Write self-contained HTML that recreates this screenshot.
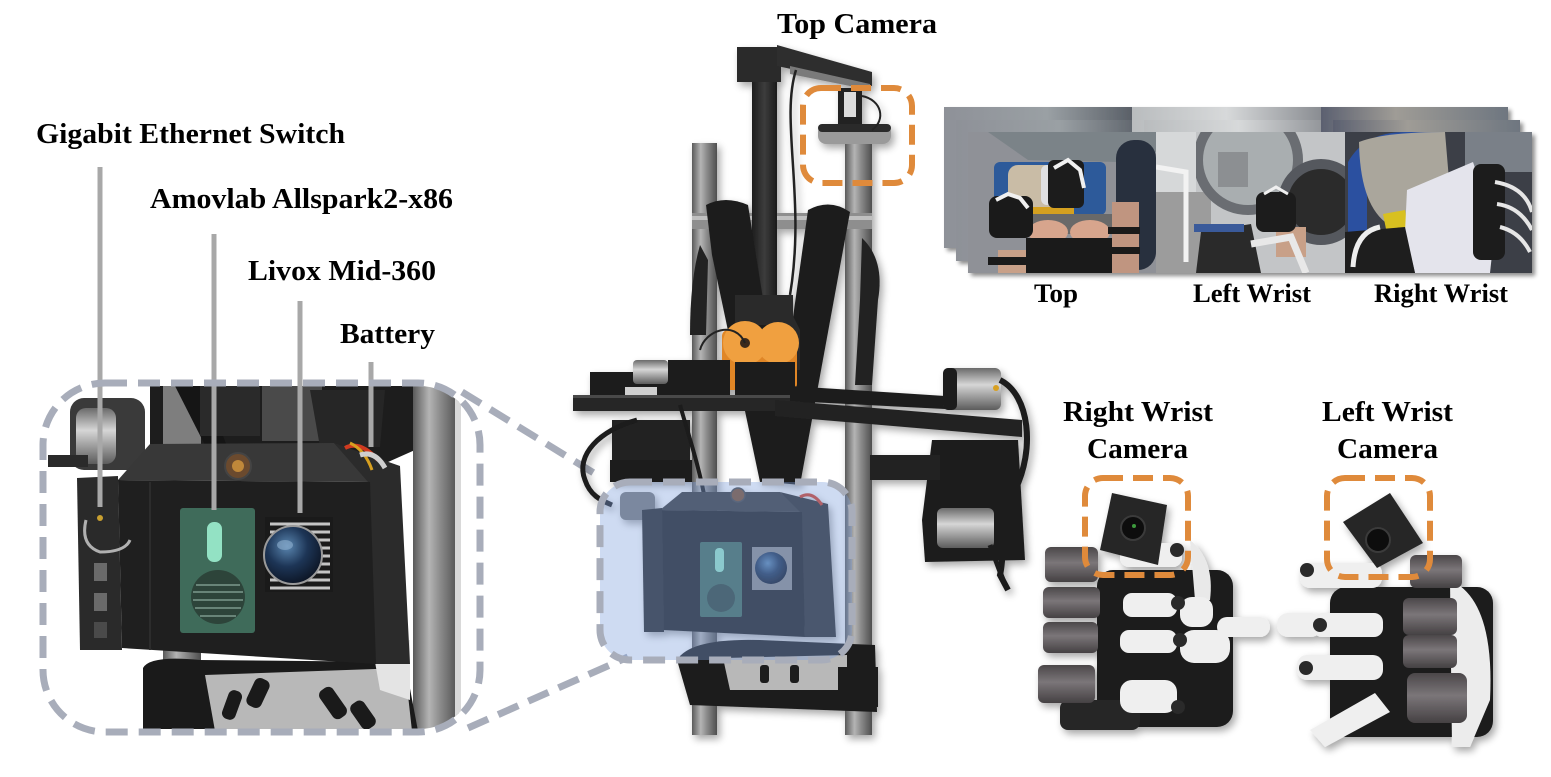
<!DOCTYPE html>
<html>
<head>
<meta charset="utf-8">
<style>
html,body{margin:0;padding:0;background:#fff;}
svg{display:block;}
text{font-family:"Liberation Serif","Times New Roman",serif;font-weight:bold;fill:#000;}
</style>
</head>
<body>
<svg width="1551" height="777" viewBox="0 0 1551 777" xmlns="http://www.w3.org/2000/svg">
<defs>
  <filter id="sh" x="-20%" y="-20%" width="140%" height="140%">
    <feGaussianBlur in="SourceAlpha" stdDeviation="4"/>
    <feOffset dx="3" dy="4" result="b"/>
    <feComponentTransfer><feFuncA type="linear" slope="0.35"/></feComponentTransfer>
    <feMerge><feMergeNode/><feMergeNode in="SourceGraphic"/></feMerge>
  </filter>
  <filter id="sh2" x="-10%" y="-10%" width="130%" height="130%">
    <feGaussianBlur in="SourceAlpha" stdDeviation="2"/>
    <feOffset dx="3" dy="3" result="b"/>
    <feComponentTransfer><feFuncA type="linear" slope="0.45"/></feComponentTransfer>
    <feMerge><feMergeNode/><feMergeNode in="SourceGraphic"/></feMerge>
  </filter>
  <linearGradient id="pole" x1="0" x2="1" y1="0" y2="0">
    <stop offset="0" stop-color="#5a5a5a"/><stop offset="0.35" stop-color="#b4b4b4"/>
    <stop offset="0.6" stop-color="#8a8a8a"/><stop offset="1" stop-color="#4e4e4e"/>
  </linearGradient>
  <linearGradient id="carbon" x1="0" x2="1">
    <stop offset="0" stop-color="#1e1e1e"/><stop offset="0.5" stop-color="#3c3c3c"/><stop offset="1" stop-color="#1a1a1a"/>
  </linearGradient>
  <linearGradient id="silver" x1="0" x2="0" y1="0" y2="1">
    <stop offset="0" stop-color="#6a6a6a"/><stop offset="0.4" stop-color="#d6d6d6"/><stop offset="1" stop-color="#5c5c5c"/>
  </linearGradient>
  <linearGradient id="cyl" x1="0" x2="0" y1="0" y2="1">
    <stop offset="0" stop-color="#4b4749"/><stop offset="0.45" stop-color="#7b7679"/><stop offset="1" stop-color="#454143"/>
  </linearGradient>
  <radialGradient id="dome" cx="0.4" cy="0.35" r="0.7">
    <stop offset="0" stop-color="#5a86b0"/><stop offset="0.5" stop-color="#1d3556"/><stop offset="1" stop-color="#0b1220"/>
  </radialGradient>
  <linearGradient id="bkTop" x1="0" x2="1">
    <stop offset="0" stop-color="#8e9198"/><stop offset="0.55" stop-color="#9aa0a4"/><stop offset="1" stop-color="#5a6068"/>
  </linearGradient>
  <linearGradient id="bkLeft" x1="0" x2="1">
    <stop offset="0" stop-color="#b9bcbe"/><stop offset="0.5" stop-color="#d7d9da"/><stop offset="1" stop-color="#8a8d92"/>
  </linearGradient>
  <linearGradient id="bkRight" x1="0" x2="1">
    <stop offset="0" stop-color="#5b6070"/><stop offset="0.4" stop-color="#9f9c96"/><stop offset="1" stop-color="#6e7680"/>
  </linearGradient>
  <clipPath id="insetClip"><rect x="46" y="386" width="431" height="343" rx="58"/></clipPath>
  <clipPath id="blueClip"><rect x="600" y="482" width="252" height="178" rx="30"/></clipPath>
</defs>

<!-- ================= LEFT INSET PHOTO ================= -->
<g clip-path="url(#insetClip)">
  <rect x="40" y="380" width="440" height="355" fill="#fff"/>
  <!-- upper background -->
  <polygon points="150,386 415,386 415,450 370,470 150,470" fill="#1d1d1d"/>
  <rect x="163" y="386" width="38" height="70" fill="#7e7e7e"/>
  <polygon points="175,386 205,386 230,455 210,455" fill="#151515"/>
  <rect x="262" y="386" width="60" height="55" fill="#4a4a4a"/>
  <polygon points="310,390 385,390 380,447 320,447" fill="#262626"/>
  <rect x="200" y="386" width="60" height="50" fill="#2a2a2a"/>
  <!-- left motor -->
  <rect x="70" y="398" width="75" height="72" rx="14" fill="#3a3a3a"/>
  <rect x="76" y="408" width="40" height="56" rx="10" fill="url(#silver)"/>
  <rect x="48" y="455" width="40" height="12" fill="#2a2a2a"/>
  <!-- right pole -->
  <rect x="413" y="386" width="46" height="345" fill="url(#pole)"/>
  <rect x="455" y="386" width="6" height="345" fill="#d9d9d9"/>
  <!-- pole under box -->
  <rect x="163" y="640" width="38" height="90" fill="url(#pole)"/>
  <!-- hip belt -->
  <path d="M143,668 Q150,655 200,660 L405,662 L418,731 L143,731 Z" fill="#1a1a1a"/>
  <path d="M205,675 L405,668 L412,731 L215,731 Z" fill="#b8b8b8"/>
  <rect x="225" y="690" width="14" height="30" rx="6" fill="#1a1a1a" transform="rotate(20 232 705)"/>
  <rect x="250" y="678" width="16" height="30" rx="6" fill="#1a1a1a" transform="rotate(25 258 693)"/>
  <rect x="325" y="686" width="16" height="34" rx="6" fill="#1a1a1a" transform="rotate(-35 333 703)"/>
  <rect x="355" y="700" width="16" height="30" rx="6" fill="#1a1a1a" transform="rotate(-35 363 715)"/>
  <polygon points="372,645 410,640 410,700 380,690" fill="#e4e4e4"/>
  <!-- box top face -->
  <polygon points="118,480 150,444 334,443 370,482" fill="#383838"/>
  <!-- right face -->
  <polygon points="368,482 334,443 400,466 410,664 375,664" fill="#2b2b2b"/>
  <!-- front face -->
  <polygon points="118,480 370,482 376,664 122,648" fill="#1f1f1f"/>
  <line x1="150" y1="482" x2="150" y2="650" stroke="#2c2c2c" stroke-width="2"/>
  <!-- switch -->
  <polygon points="77,478 118,476 122,650 80,650" fill="#2a2a2a"/>
  <rect x="94" y="563" width="13" height="18" fill="#6a6a6a"/>
  <rect x="94" y="593" width="13" height="18" fill="#6a6a6a"/>
  <rect x="94" y="622" width="13" height="16" fill="#4a4a4a"/>
  <path d="M86,520 Q80,545 100,552 Q125,552 130,540" fill="none" stroke="#b0b0b0" stroke-width="3"/>
  <circle cx="100" cy="518" r="3" fill="#c9a030"/>
  <!-- connector -->
  <circle cx="238" cy="466" r="13" fill="#6b4a2e" stroke="#444" stroke-width="2"/>
  <circle cx="238" cy="466" r="6" fill="#c0883a"/>
  <!-- battery wires -->
  <path d="M345,448 Q360,440 378,460" fill="none" stroke="#d03a20" stroke-width="4"/>
  <path d="M350,443 Q365,450 372,470" fill="none" stroke="#d8a020" stroke-width="3"/>
  <path d="M360,455 Q375,450 385,468" fill="none" stroke="#cfcfcf" stroke-width="5"/>
  <!-- green panel -->
  <rect x="180" y="508" width="75" height="125" rx="3" fill="#3f6b5a"/>
  <rect x="207" y="522" width="15" height="40" rx="7" fill="#93e2c4"/>
  <circle cx="218" cy="597" r="27" fill="#2d443a"/>
  <g stroke="#7d9a8c" stroke-width="1.5">
    <line x1="196" y1="585" x2="240" y2="585"/><line x1="193" y1="592" x2="243" y2="592"/>
    <line x1="193" y1="600" x2="243" y2="600"/><line x1="195" y1="608" x2="241" y2="608"/>
    <line x1="200" y1="616" x2="236" y2="616"/>
  </g>
  <!-- lidar -->
  <rect x="265" y="517" width="68" height="75" fill="#1a1a1a"/>
  <g stroke="#c4c4c4" stroke-width="3">
    <line x1="270" y1="524" x2="330" y2="524"/><line x1="270" y1="532" x2="330" y2="532"/>
    <line x1="270" y1="540" x2="330" y2="540"/><line x1="270" y1="548" x2="330" y2="548"/>
    <line x1="270" y1="556" x2="330" y2="556"/><line x1="270" y1="564" x2="330" y2="564"/>
    <line x1="270" y1="572" x2="330" y2="572"/><line x1="270" y1="580" x2="330" y2="580"/>
    <line x1="270" y1="588" x2="330" y2="588"/>
  </g>
  <circle cx="293" cy="555" r="29" fill="url(#dome)" stroke="#9a9a9a" stroke-width="2"/>
  <ellipse cx="285" cy="545" rx="8" ry="5" fill="#8fb0d0" opacity="0.6"/>
</g>

<!-- leader lines -->
<g stroke="#a8a8a8" stroke-width="5">
  <line x1="100" y1="167" x2="100" y2="507"/>
  <line x1="214" y1="234" x2="214" y2="510"/>
  <line x1="300" y1="301" x2="300" y2="513"/>
  <line x1="371" y1="362" x2="371" y2="447"/>
</g>

<!-- inset dashed border -->
<rect x="43" y="383" width="437" height="349" rx="62" fill="none" stroke="#a8adba" stroke-width="7" stroke-dasharray="22 11"/>

<!-- connectors -->
<line x1="462" y1="392" x2="602" y2="478" stroke="#a8adba" stroke-width="7" stroke-dasharray="22 11"/>
<line x1="468" y1="728" x2="628" y2="657" stroke="#a8adba" stroke-width="7" stroke-dasharray="22 11"/>

<!-- ================= CENTRAL ROBOT ================= -->
<g filter="url(#sh)">
  <!-- poles -->
  <rect x="692" y="143" width="25" height="592" fill="url(#pole)"/>
  <rect x="845" y="140" width="27" height="595" fill="url(#pole)"/>
  <!-- crossbar -->
  <rect x="692" y="213" width="180" height="16" fill="#8e8e8e"/>
  <rect x="692" y="216" width="180" height="4" fill="#c0c0c0"/>
  <!-- carbon pole -->
  <rect x="752" y="80" width="25" height="225" fill="url(#carbon)"/>
  <!-- top bracket -->
  <rect x="737" y="47" width="44" height="35" fill="#2b2b2b"/>
  <polygon points="777,45 872,72 872,86 777,66" fill="#2e2e2e"/>
  <polygon points="790,66 870,84 870,90 790,74" fill="#7a7a7a"/>
  <!-- camera mount -->
  <rect x="838" y="88" width="24" height="38" fill="#222"/>
  <rect x="844" y="92" width="12" height="25" fill="#dcdcdc"/>
  <rect x="818" y="124" width="73" height="20" rx="8" fill="#9a9a9a"/>
  <rect x="818" y="124" width="73" height="8" rx="4" fill="#2c2c2c"/>
  <!-- cable -->
  <path d="M796,70 C780,120 806,200 790,295" fill="none" stroke="#222" stroke-width="2.5"/>
  <path d="M862,96 C882,100 886,120 872,130" fill="none" stroke="#222" stroke-width="2"/>
  <!-- straps -->
  <path d="M706,205 Q725,195 748,205 L792,480 L760,482 L712,255 Z" fill="#1f1f1f"/>
  <path d="M808,210 Q830,198 850,212 L800,485 L770,482 Z" fill="#1f1f1f"/>
  <path d="M862,238 Q885,260 878,300 L872,385 L855,385 L860,300 Z" fill="#222"/>
  <path d="M700,245 Q690,280 690,335 L706,335 L708,260 Z" fill="#222"/>
  <!-- bracket above motors -->
  <rect x="735" y="295" width="58" height="30" fill="#2a2a2a"/>
  <polygon points="785,300 800,330 800,370 785,370" fill="#2a2a2a"/>
  <!-- orange motors -->
  <rect x="722" y="330" width="75" height="60" rx="6" fill="#e08628"/>
  <circle cx="745" cy="343" r="22" fill="#f0a040"/>
  <circle cx="778" cy="343" r="21" fill="#f0a040"/>
  <circle cx="745" cy="343" r="5" fill="#3a2a1a"/>
  <path d="M745,343 C735,320 705,330 700,350" fill="none" stroke="#222" stroke-width="2"/>
  <!-- left arm top -->
  <rect x="590" y="372" width="130" height="26" fill="#1e1e1e"/>
  <rect x="633" y="360" width="35" height="24" rx="4" fill="url(#silver)"/>
  <rect x="668" y="360" width="62" height="38" fill="#1c1c1c"/>
  <rect x="735" y="362" width="60" height="38" fill="#1c1c1c"/>
  <rect x="625" y="387" width="32" height="8" fill="#cfcfcf"/>
  <!-- left plate -->
  <rect x="573" y="395" width="227" height="16" fill="#262626"/>
  <rect x="573" y="395" width="227" height="3" fill="#4a4a4a"/>
  <!-- right rail & plate -->
  <polygon points="790,386 945,396 945,409 790,401" fill="#1c1c1c"/>
  <polygon points="775,400 1022,420 1022,437 775,416" fill="#232323"/>
  <!-- right motor -->
  <rect x="943" y="368" width="58" height="42" rx="6" fill="url(#silver)"/>
  <rect x="943" y="368" width="14" height="42" rx="5" fill="#1e1e1e"/>
  <circle cx="996" cy="388" r="3" fill="#d8a020"/>
  <path d="M1000,380 C1030,395 1035,450 1015,490 C1000,520 1005,555 1000,575 L1008,590" fill="none" stroke="#1a1a1a" stroke-width="6"/>
  <!-- right lower assembly -->
  <polygon points="932,440 1018,440 1025,560 925,562 922,520" fill="#1e1e1e"/>
  <rect x="937" y="508" width="57" height="40" rx="6" fill="url(#silver)"/>
  <rect x="870" y="455" width="70" height="25" fill="#222"/>
  <path d="M990,545 L1005,585" stroke="#1a1a1a" stroke-width="5"/>
  <!-- left under assembly -->
  <rect x="612" y="420" width="78" height="50" fill="#232323"/>
  <rect x="610" y="460" width="82" height="22" fill="#1c1c1c"/>
  <path d="M637,420 C600,430 575,455 585,480 C590,495 600,500 612,505" fill="none" stroke="#1a1a1a" stroke-width="5"/>
  <path d="M680,405 C690,440 700,470 705,500" fill="none" stroke="#1a1a1a" stroke-width="4"/>
  <!-- hip belt -->
  <path d="M677,660 Q690,638 760,640 L875,645 L877,712 L690,705 Z" fill="#1c1c1c"/>
  <polygon points="723,658 847,655 847,690 730,690" fill="#b8b8b8"/>
  <rect x="760" y="665" width="9" height="18" rx="3" fill="#1c1c1c"/>
  <rect x="790" y="665" width="9" height="18" rx="3" fill="#1c1c1c"/>
  <rect x="838" y="667" width="40" height="40" fill="#1a1a1a"/>
  <!-- computing box -->
  <rect x="620" y="492" width="35" height="28" rx="6" fill="#7a7a7a"/>
  <polygon points="660,510 682,492 780,492 802,512" fill="#383838"/>
  <polygon points="800,512 780,492 828,504 836,637 805,637" fill="#2c2c2c"/>
  <polygon points="660,510 802,512 805,637 663,630" fill="#1f1f1f"/>
  <polygon points="642,510 662,508 664,632 644,632" fill="#262626"/>
  <rect x="700" y="542" width="42" height="75" rx="2" fill="#3f6b5a"/>
  <rect x="715" y="548" width="9" height="24" rx="4" fill="#93e2c4"/>
  <circle cx="721" cy="598" r="14" fill="#2d443a"/>
  <rect x="752" y="547" width="40" height="43" fill="#8a8a8a"/>
  <circle cx="771" cy="568" r="16" fill="url(#dome)"/>
  <circle cx="738" cy="495" r="7" fill="#7a4e2a" stroke="#444" stroke-width="1.5"/>
  <path d="M800,497 Q812,490 822,505" fill="none" stroke="#d03a20" stroke-width="3"/>
</g>

<!-- blue highlight box -->
<rect x="600" y="482" width="252" height="178" rx="30" fill="#7fa0dc" fill-opacity="0.38"/>
<rect x="600" y="482" width="252" height="178" rx="30" fill="none" stroke="#a8adba" stroke-width="7" stroke-dasharray="22 11"/>

<!-- top camera orange box -->
<rect x="803" y="88" width="109" height="95" rx="18" fill="none" stroke="#df8a3b" stroke-width="6" stroke-dasharray="20 10"/>

<!-- ================= CAMERA VIEWS ================= -->
<!-- Top stack -->
<g filter="url(#sh2)">
  <rect x="944" y="107" width="188" height="141" fill="url(#bkTop)"/>
  <rect x="956" y="120" width="188" height="141" fill="url(#bkTop)"/>
  <rect x="1132" y="107" width="189" height="141" fill="url(#bkLeft)"/>
  <rect x="1144" y="120" width="189" height="141" fill="url(#bkLeft)"/>
  <rect x="1321" y="107" width="187" height="141" fill="url(#bkRight)"/>
  <rect x="1333" y="120" width="187" height="141" fill="url(#bkRight)"/>
  <rect x="968" y="132" width="188" height="141" fill="#8f9197"/>
  <rect x="1156" y="132" width="189" height="141" fill="#c5c7c9"/>
  <rect x="1345" y="132" width="187" height="141" fill="#3c3f47"/>
</g>
<!-- top view content -->
<svg x="968" y="132" width="188" height="141" viewBox="0 0 188 141">
  <rect width="188" height="141" fill="#8f9197"/>
  <polygon points="20,0 188,0 188,20 150,30 60,28" fill="#7b8388"/>
  <rect x="148" y="8" width="40" height="130" rx="18" fill="#28303e"/>
  <rect x="26" y="30" width="112" height="53" rx="6" fill="#2d5a9a"/>
  <rect x="40" y="33" width="47" height="45" rx="10" fill="#c9bca6"/>
  <rect x="73" y="33" width="34" height="40" rx="6" fill="#e0e0e2"/>
  <rect x="36" y="75" width="70" height="7" fill="#d4a020"/>
  <rect x="62" y="82" width="82" height="20" fill="#696969"/>
  <ellipse cx="80" cy="100" rx="20" ry="12" fill="#d7a58d"/>
  <ellipse cx="122" cy="100" rx="20" ry="12" fill="#d7a58d"/>
  <rect x="58" y="106" width="86" height="35" fill="#1a1a1a"/>
  <rect x="144" y="70" width="27" height="71" fill="#c09580"/>
  <rect x="140" y="95" width="32" height="7" fill="#1a1a1a"/>
  <rect x="140" y="115" width="32" height="7" fill="#1a1a1a"/>
  <rect x="30" y="118" width="28" height="23" fill="#c8a088"/>
  <rect x="20" y="125" width="40" height="8" fill="#1a1a1a"/>
  <rect x="21" y="64" width="44" height="42" rx="8" fill="#1a1a1a"/>
  <path d="M28,68 L40,62 L52,66 L60,76" fill="none" stroke="#f0f0f0" stroke-width="4"/>
  <rect x="80" y="28" width="36" height="48" rx="6" fill="#1c1c1c"/>
  <path d="M86,36 L100,28 L112,38 L116,56" fill="none" stroke="#f0f0f0" stroke-width="4"/>
</svg>
<!-- left wrist content -->
<svg x="1156" y="132" width="189" height="141" viewBox="0 0 189 141">
  <rect width="189" height="141" fill="#c3c5c7"/>
  <rect x="0" y="60" width="55" height="81" fill="#9c9c9c"/>
  <circle cx="92" cy="28" r="50" fill="#a9aeb0" stroke="#6a6d72" stroke-width="10"/>
  <rect x="62" y="20" width="30" height="35" fill="#8c8f92"/>
  <circle cx="165" cy="70" r="38" fill="#2b2b2b" stroke="#55585e" stroke-width="10"/>
  <polygon points="45,100 95,92 105,141 40,141" fill="#2a2a2a"/>
  <rect x="38" y="92" width="50" height="8" fill="#3a5a9a"/>
  <rect x="120" y="95" width="30" height="30" fill="#c8a088"/>
  <rect x="100" y="60" width="40" height="40" rx="8" fill="#1c1c1c"/>
  <path d="M108,62 L120,55 L132,62" fill="none" stroke="#f0f0f0" stroke-width="3"/>
  <path d="M95,112 L135,105 L150,141" fill="none" stroke="#e8e8e8" stroke-width="7"/>
  <rect x="0" y="0" width="40" height="60" fill="#d6d8d9"/>
  <path d="M0,35 L30,40 L30,130" fill="none" stroke="#f2f2f2" stroke-width="5"/>
</svg>
<!-- right wrist content -->
<svg x="1345" y="132" width="187" height="141" viewBox="0 0 187 141">
  <rect width="187" height="141" fill="#3c3f47"/>
  <rect x="120" y="0" width="67" height="40" fill="#7a8088"/>
  <path d="M3,141 L3,30 Q20,0 60,0 L100,0 L95,10 Q30,12 22,50 L22,141 Z" fill="#2b50a0"/>
  <path d="M14,10 Q40,0 100,0 L105,60 Q80,95 40,90 Q15,70 14,10 Z" fill="#aaa69c"/>
  <polygon points="38,82 60,78 68,118 46,122" fill="#d8c020"/>
  <polygon points="62,58 128,30 150,95 145,141 70,141 60,100" fill="#e4e4ec"/>
  <rect x="128" y="32" width="32" height="96" rx="8" fill="#1c1c1c"/>
  <path d="M150,50 Q180,55 187,80" fill="none" stroke="#e6e6e6" stroke-width="4"/>
  <path d="M152,72 Q175,75 187,98" fill="none" stroke="#e6e6e6" stroke-width="4"/>
  <path d="M155,95 Q175,100 185,120" fill="none" stroke="#e6e6e6" stroke-width="4"/>
  <polygon points="0,100 60,95 70,141 0,141" fill="#1e1e1e"/>
  <path d="M8,135 Q10,100 35,95" fill="none" stroke="#eeeeee" stroke-width="5"/>
</svg>

<!-- ================= HANDS ================= -->
<!-- right wrist (left hand image) -->
<g filter="url(#sh)">
  <rect x="1097" y="570" width="136" height="157" rx="16" fill="#1c1c1c"/>
  <path d="M1190,540 Q1215,560 1210,600 L1195,600 Z" fill="#e9e9e9"/>
  <rect x="1060" y="700" width="80" height="30" rx="8" fill="#262626"/>
  <!-- cylinders -->
  <rect x="1045" y="547" width="53" height="35" rx="6" fill="url(#cyl)"/>
  <rect x="1043" y="587" width="57" height="31" rx="6" fill="url(#cyl)"/>
  <rect x="1043" y="622" width="55" height="31" rx="6" fill="url(#cyl)"/>
  <rect x="1038" y="665" width="57" height="38" rx="6" fill="url(#cyl)"/>
  <!-- fingers -->
  <rect x="1120" y="543" width="62" height="24" rx="9" fill="#efefef"/>
  <rect x="1123" y="593" width="54" height="24" rx="9" fill="#efefef"/>
  <rect x="1180" y="597" width="33" height="30" rx="12" fill="#efefef"/>
  <rect x="1120" y="630" width="57" height="23" rx="9" fill="#efefef"/>
  <rect x="1180" y="630" width="50" height="33" rx="14" fill="#efefef"/>
  <rect x="1217" y="617" width="53" height="20" rx="10" fill="#efefef"/>
  <rect x="1120" y="680" width="57" height="33" rx="12" fill="#efefef"/>
  <circle cx="1177" cy="550" r="7" fill="#2a2a2a"/>
  <circle cx="1178" cy="603" r="7" fill="#2a2a2a"/>
  <circle cx="1180" cy="640" r="7" fill="#2a2a2a"/>
  <circle cx="1178" cy="707" r="7" fill="#2a2a2a"/>
  <!-- camera -->
  <polygon points="1112,493 1167,505 1158,565 1100,550" fill="#262626"/>
  <circle cx="1133" cy="528" r="12" fill="#0e0e0e" stroke="#3a3a3a" stroke-width="2"/>
  <circle cx="1134" cy="526" r="2" fill="#3c9a3c"/>
</g>
<!-- left wrist (right hand image) -->
<g filter="url(#sh)">
  <rect x="1330" y="587" width="163" height="150" rx="16" fill="#1c1c1c"/>
  <path d="M1450,580 Q1495,600 1490,700 L1470,747 L1452,747 Z" fill="#ececec"/>
  <!-- cylinders -->
  <rect x="1410" y="555" width="52" height="33" rx="6" fill="url(#cyl)"/>
  <rect x="1403" y="598" width="54" height="37" rx="6" fill="url(#cyl)"/>
  <rect x="1403" y="635" width="54" height="33" rx="6" fill="url(#cyl)"/>
  <rect x="1407" y="673" width="60" height="50" rx="8" fill="url(#cyl)"/>
  <!-- fingers -->
  <rect x="1300" y="563" width="82" height="25" rx="10" fill="#efefef"/>
  <rect x="1277" y="613" width="45" height="24" rx="11" fill="#efefef"/>
  <rect x="1313" y="613" width="70" height="24" rx="9" fill="#efefef"/>
  <rect x="1297" y="655" width="86" height="25" rx="10" fill="#efefef"/>
  <polygon points="1310,730 1375,693 1390,712 1325,747" fill="#efefef"/>
  <circle cx="1307" cy="570" r="7" fill="#2a2a2a"/>
  <circle cx="1320" cy="625" r="7" fill="#2a2a2a"/>
  <circle cx="1306" cy="668" r="7" fill="#2a2a2a"/>
  <!-- camera -->
  <polygon points="1343,522 1390,493 1423,543 1377,568" fill="#262626"/>
  <circle cx="1378" cy="540" r="12" fill="#0e0e0e" stroke="#3a3a3a" stroke-width="2"/>
</g>
<rect x="1085" y="478" width="103" height="97" rx="18" fill="none" stroke="#df8a3b" stroke-width="6" stroke-dasharray="20 10"/>
<rect x="1327" y="478" width="103" height="99" rx="18" fill="none" stroke="#df8a3b" stroke-width="6" stroke-dasharray="20 10"/>

<!-- ================= LABELS ================= -->
<text x="777" y="33" font-size="29" textLength="160" lengthAdjust="spacingAndGlyphs">Top Camera</text>
<text x="36" y="143" font-size="29" textLength="309" lengthAdjust="spacingAndGlyphs">Gigabit Ethernet Switch</text>
<text x="150" y="208" font-size="29" textLength="303" lengthAdjust="spacingAndGlyphs">Amovlab Allspark2-x86</text>
<text x="248" y="280" font-size="29" textLength="188" lengthAdjust="spacingAndGlyphs">Livox Mid-360</text>
<text x="340" y="343" font-size="29" textLength="95" lengthAdjust="spacingAndGlyphs">Battery</text>
<text x="1034" y="302" font-size="26" textLength="44" lengthAdjust="spacingAndGlyphs">Top</text>
<text x="1193" y="302" font-size="26" textLength="118" lengthAdjust="spacingAndGlyphs">Left Wrist</text>
<text x="1374" y="302" font-size="26" textLength="134" lengthAdjust="spacingAndGlyphs">Right Wrist</text>
<text x="1063" y="421" font-size="29" textLength="150" lengthAdjust="spacingAndGlyphs">Right Wrist</text>
<text x="1087" y="458" font-size="29" textLength="101" lengthAdjust="spacingAndGlyphs">Camera</text>
<text x="1322" y="421" font-size="29" textLength="131" lengthAdjust="spacingAndGlyphs">Left Wrist</text>
<text x="1337" y="458" font-size="29" textLength="101" lengthAdjust="spacingAndGlyphs">Camera</text>
</svg>
</body>
</html>
